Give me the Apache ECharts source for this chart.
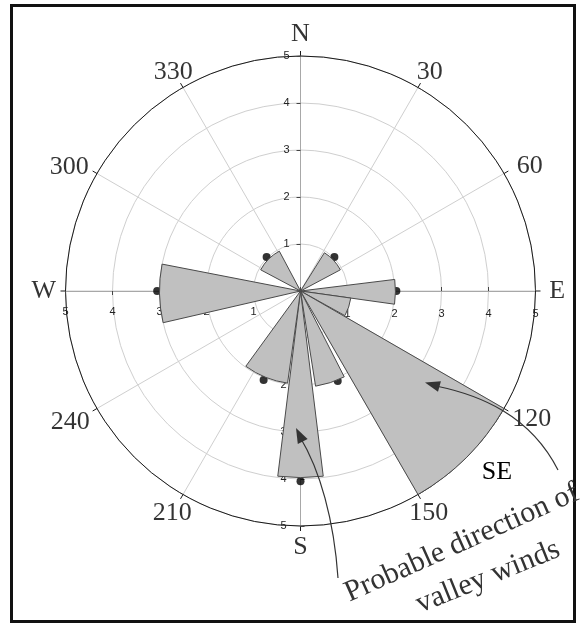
<!DOCTYPE html>
<html><head><meta charset="utf-8">
<script src="https://cdn.jsdelivr.net/npm/echarts@6/dist/echarts.min.js"></script>
<style>html,body{margin:0;padding:0;background:#fff}#c{width:580px;height:626px}</style>
</head><body><div id="c"></div>
<script>
// Sector bins (compass bearing in degrees, clockwise from N) and lengths
const secStart = [32, 83, 98, 120, 153, 173, 188, 257, 298];
const secEnd   = [62, 98, 119, 150, 171, 187, 216, 281, 332];
const secValue = [0.96, 2.02, 1.08, 5, 2.05, 3.97, 1.98, 3.0, 0.96];
// Mean markers (black dots)
const dotAngle = [45, 90, 135, 157.5, 180, 202.5, 270, 315];
const dotValue = [1.02, 2.04, 5.03, 2.07, 4.05, 2.05, 3.05, 1.02];
// Axis labels
const angleTicks = [0, 30, 60, 90, 120, 150, 180, 210, 240, 270, 300, 330];
const compassLabels = {0: 'N', 90: 'E', 180: 'S', 270: 'W'};
const radiusMax = 5;
const annotationLines = ['Probable direction of', 'valley winds'];
const seLabel = 'SE';

const C = ['300.5', '291'];
const R = 235;
const LABEL_R = 5.46; // label ring, in radius-axis units (just outside the outer circle)
const labelNudge = {60: [7, 3], 120: [9, 0], 240: [-8, 3], 300: [-9, 4], 30: [1, 3], 330: [1, 3]};
const serif = '"Liberation Serif", "Times New Roman", serif';

const chart = echarts.init(document.getElementById('c'), null, {renderer: 'canvas'});

// margin < 0 puts the labels on the opposite side of the radius axis
function radiusAxisFor(idx, showSplit, margin) {
  return {
    polarIndex: idx, type: 'value', min: 0, max: radiusMax, interval: 1,
    axisLine: {show: true, lineStyle: {color: '#a8a8a8', width: 1}},
    axisTick: {show: true, length: 4, lineStyle: {color: '#444'}},
    axisLabel: {show: true, fontSize: 11, color: '#222', margin: margin,
      fontFamily: 'Arial, "Liberation Sans", sans-serif',
      formatter: v => v === 0 ? '' : String(v)},
    splitLine: {show: showSplit, lineStyle: {color: '#cfcfcf', width: 1}},
    z: 1
  };
}
function hiddenAngle(idx, start) {
  return {polarIndex: idx, type: 'value', min: 0, max: 360, startAngle: start, clockwise: true,
    axisLine: {show: false}, axisTick: {show: false}, axisLabel: {show: false}, splitLine: {show: false}};
}

function arrowHead(tip, from, len, half) {
  const dx = tip[0] - from[0], dy = tip[1] - from[1];
  const L = Math.hypot(dx, dy), ux = dx / L, uy = dy / L;
  const bx = tip[0] - ux * len, by = tip[1] - uy * len;
  return [[tip[0], tip[1]], [bx - uy * half, by + ux * half], [bx + uy * half, by - ux * half]];
}

const option = {
  animation: false,
  backgroundColor: '#fff',
  polar: [
    {center: C, radius: R},
    {center: C, radius: R},
    {center: C, radius: R},
    {center: C, radius: R}
  ],
  angleAxis: [
    {polarIndex: 0, type: 'value', min: 0, max: 360, interval: 30, startAngle: 90, clockwise: true,
      axisLine: {show: true, lineStyle: {color: '#1a1a1a', width: 1}},
      axisTick: {show: true, length: 5, lineStyle: {color: '#1a1a1a'}},
      axisLabel: {show: false},
      splitLine: {show: true, lineStyle: {color: '#cfcfcf', width: 1}},
      z: 1},
    hiddenAngle(1, 0),
    hiddenAngle(2, 180),
    hiddenAngle(3, 270)
  ],
  radiusAxis: [
    radiusAxisFor(0, true, 11),    // N axis, labels left
    radiusAxisFor(1, false, -28),  // E axis, labels below
    radiusAxisFor(2, false, 15),   // W axis, labels below
    radiusAxisFor(3, false, -20)   // S axis, labels left
  ],
  series: [
    {
      // angle-axis tick labels, centred on a ring just outside the outer circle
      type: 'scatter', coordinateSystem: 'polar', polarIndex: 0, z: 4, silent: true, clip: false,
      symbol: 'circle', symbolSize: 1, itemStyle: {color: 'rgba(0,0,0,0)'},
      label: {show: true, position: 'inside', fontSize: 26, fontFamily: serif, color: '#000',
        formatter: p => compassLabels[p.value[1]] !== undefined ? compassLabels[p.value[1]] : String(p.value[1])},
      data: angleTicks.map(a => ({value: [LABEL_R, a], label: {offset: labelNudge[a] || [0, 0]}}))
    },
    {
      type: 'scatter', coordinateSystem: 'polar', polarIndex: 0, z: 2,
      symbol: 'circle', symbolSize: 8, itemStyle: {color: '#000'},
      data: dotAngle.map((a, i) => [dotValue[i], a])
    },
    {
      type: 'custom', coordinateSystem: 'polar', polarIndex: 0, z: 3,
      encode: {radius: 2, angle: 0},
      data: secStart.map((s, i) => [s, secEnd[i], secValue[i]]),
      renderItem: function (params, api) {
        const a0 = api.value(0), a1 = api.value(1), r = api.value(2);
        const c = api.coord([0, 0]);
        const p0 = api.coord([r, a0]);
        const p1 = api.coord([r, a1]);
        const rr = Math.hypot(p0[0] - c[0], p0[1] - c[1]);
        const s = Math.atan2(p0[1] - c[1], p0[0] - c[0]);
        let e = Math.atan2(p1[1] - c[1], p1[0] - c[0]);
        while (e <= s) e += 2 * Math.PI;
        return {
          type: 'sector',
          shape: {cx: c[0], cy: c[1], r0: 0, r: rr, startAngle: s, endAngle: e, clockwise: true},
          style: {fill: '#c0c0c0', stroke: '#4a4a4a', lineWidth: 1}
        };
      }
    }
  ],
  graphic: [
    {type: 'rect', shape: {x: 11.5, y: 5.5, width: 563, height: 616},
      style: {fill: 'none', stroke: '#111', lineWidth: 3}, z: 10},
    {type: 'text', x: 497, y: 472, z: 10,
      style: {text: seLabel, font: '26px ' + serif, fill: '#000', textAlign: 'center', textVerticalAlign: 'middle'}},
    {type: 'text', x: 462, y: 543, rotation: 24 * Math.PI / 180, z: 10,
      style: {text: annotationLines[0], font: '30px ' + serif, fill: '#333', textAlign: 'center', textVerticalAlign: 'middle'}},
    {type: 'text', x: 488, y: 577, rotation: 22 * Math.PI / 180, z: 10,
      style: {text: annotationLines[1], font: '30px ' + serif, fill: '#333', textAlign: 'center', textVerticalAlign: 'middle'}},
    {type: 'bezierCurve', z: 10,
      shape: {x1: 558, y1: 470, cpx1: 530, cpy1: 415, cpx2: 480, cpy2: 395, x2: 436, y2: 386},
      style: {stroke: '#333', lineWidth: 1.2, fill: 'none'}},
    {type: 'polygon', z: 10, shape: {points: arrowHead([425, 382.5], [445, 388], 15, 5.5)},
      style: {fill: '#333'}},
    {type: 'bezierCurve', z: 10,
      shape: {x1: 338, y1: 578, cpx1: 334, cpy1: 520, cpx2: 320, cpy2: 470, x2: 300, y2: 437},
      style: {stroke: '#333', lineWidth: 1.2, fill: 'none'}},
    {type: 'polygon', z: 10, shape: {points: arrowHead([296, 428], [305, 446], 15, 5.5)},
      style: {fill: '#333'}}
  ]
};
chart.setOption(option);
</script>
</body></html>
